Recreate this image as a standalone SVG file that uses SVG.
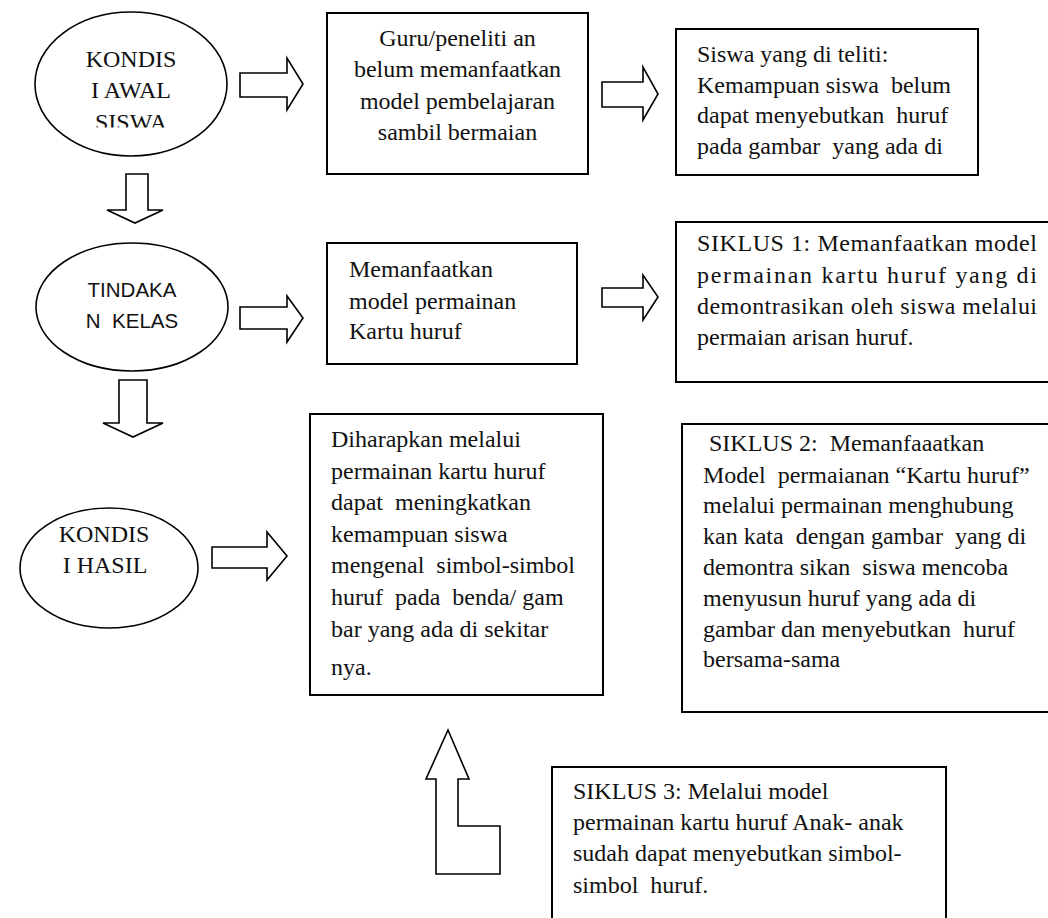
<svg xmlns="http://www.w3.org/2000/svg" width="1048" height="918" viewBox="0 0 1048 918" xml:space="preserve">
<style>
.bg{fill:#fff}
.box{fill:#fff;stroke:#000;stroke-width:2}
.ell{fill:#fff;stroke:#000;stroke-width:1.6}
.arr{fill:#fff;stroke:#000;stroke-width:1.6;stroke-linejoin:miter}
.t{font-family:"Liberation Serif","Times New Roman",serif;font-size:24px;fill:#111;white-space:pre}
.s{font-family:"Liberation Sans",Arial,sans-serif;font-size:20.5px;fill:#111;white-space:pre}
.c{text-anchor:middle}
</style>
<defs>
<clipPath id="clipE1"><rect x="30" y="10" width="210" height="117.5"/></clipPath>
</defs>
<rect class="bg" x="0" y="0" width="1048" height="918"/>

<g id="kondisi-awal">
<ellipse class="ell" cx="131" cy="84" rx="96" ry="72"/>
<g clip-path="url(#clipE1)">
<text class="t c" x="131" y="67">KONDIS</text>
<text class="t c" x="131" y="98">I AWAL</text>
<text class="t c" x="131" y="130">SISWA</text>
</g>
</g>

<g id="guru">
<rect class="box" x="327" y="13" width="261" height="161"/>
<text class="t c" x="457.5" y="46">Guru/peneliti an</text>
<text class="t c" x="457.5" y="77">belum memanfaatkan</text>
<text class="t c" x="457.5" y="109">model pembelajaran</text>
<text class="t c" x="457.5" y="140">sambil bermaian</text>
</g>

<g id="siswa">
<rect class="box" x="676" y="29" width="302" height="146"/>
<text class="t" x="697" y="62">Siswa yang di teliti:</text>
<text class="t" x="697" y="93">Kemampuan siswa  belum</text>
<text class="t" x="697" y="123">dapat menyebutkan  huruf</text>
<text class="t" x="697" y="154">pada gambar  yang ada di</text>
</g>

<g id="tindakan">
<ellipse class="ell" cx="132" cy="307" rx="96" ry="64"/>
<text class="s c" x="132" y="297">TINDAKA</text>
<text class="s c" x="132" y="328">N  KELAS</text>
</g>

<g id="memanfaatkan">
<rect class="box" x="327" y="243" width="250" height="121"/>
<text class="t" x="349" y="277">Memanfaatkan</text>
<text class="t" x="349" y="309">model permainan</text>
<text class="t" x="349" y="339">Kartu huruf</text>
</g>

<g id="siklus1">
<rect class="box" x="676" y="222" width="376" height="160"/>
<text class="t" x="697" y="251" textLength="340" lengthAdjust="spacing">SIKLUS 1: Memanfaatkan model</text>
<text class="t" x="697" y="283" textLength="340" lengthAdjust="spacing">permainan kartu huruf yang di</text>
<text class="t" x="697" y="314" textLength="340" lengthAdjust="spacing">demontrasikan oleh siswa melalui</text>
<text class="t" x="697" y="345">permaian arisan huruf.</text>
</g>

<g id="kondisi-hasil">
<ellipse class="ell" cx="109" cy="568" rx="89" ry="60"/>
<text class="t c" x="104" y="542">KONDIS</text>
<text class="t c" x="105" y="573">I HASIL</text>
</g>

<g id="diharapkan">
<rect class="box" x="310" y="414" width="293" height="281"/>
<text class="t" x="331" y="447">Diharapkan melalui</text>
<text class="t" x="331" y="479">permainan kartu huruf</text>
<text class="t" x="331" y="510">dapat  meningkatkan</text>
<text class="t" x="331" y="542">kemampuan siswa</text>
<text class="t" x="331" y="573">mengenal  simbol-simbol</text>
<text class="t" x="331" y="605">huruf  pada  benda/ gam</text>
<text class="t" x="331" y="637">bar yang ada di sekitar</text>
<text class="t" x="331" y="675">nya.</text>
</g>

<g id="siklus2">
<rect class="box" x="682" y="424" width="370" height="288"/>
<text class="t" x="703" y="451"> SIKLUS 2:  Memanfaaatkan</text>
<text class="t" x="703" y="483">Model  permaianan “Kartu huruf”</text>
<text class="t" x="703" y="513">melalui permainan menghubung</text>
<text class="t" x="703" y="544">kan kata  dengan gambar  yang di</text>
<text class="t" x="703" y="575">demontra sikan  siswa mencoba</text>
<text class="t" x="703" y="606">menyusun huruf yang ada di</text>
<text class="t" x="703" y="637">gambar dan menyebutkan  huruf</text>
<text class="t" x="703" y="667">bersama-sama</text>
</g>

<g id="siklus3">
<rect class="box" x="552" y="767" width="394" height="160"/>
<text class="t" x="573" y="799">SIKLUS 3: Melalui model</text>
<text class="t" x="573" y="830">permainan kartu huruf Anak- anak</text>
<text class="t" x="573" y="861">sudah dapat menyebutkan simbol-</text>
<text class="t" x="573" y="893">simbol  huruf.</text>
</g>

<g id="connectors">
<polygon class="arr" points="240,73 287,73 287,58 303,84 287,110 287,97 240,97"/>
<polygon class="arr" points="602,82 643,82 643,67 658,94 643,120 643,107 602,107"/>
<polygon class="arr" points="240,307 287,307 287,296 303,318 287,342 287,329 240,329"/>
<polygon class="arr" points="602,288 643,288 643,275 658,297 643,320 643,307 602,307"/>
<polygon class="arr" points="212,547 267,547 267,532 287,556 267,580 267,568 212,568"/>
<polygon class="arr" points="126,174 148,174 148,210 163,210 135,223 107,210 126,210"/>
<polygon class="arr" points="119,380 147,380 147,423 163,423 133,437 103,423 119,423"/>
<polygon class="arr" points="448,730 469,779 458,779 458,826 500,826 500,874 436,874 436,779 426,779"/>
</g>
</svg>
